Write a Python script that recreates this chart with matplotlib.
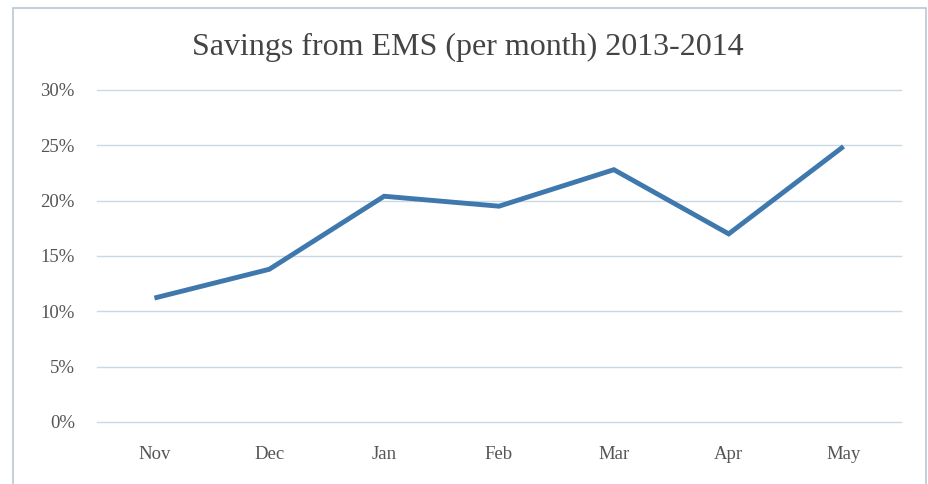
import matplotlib
matplotlib.use("Agg")
import matplotlib.pyplot as plt
from matplotlib.patches import Rectangle
from matplotlib.ticker import FuncFormatter

months = ["Nov", "Dec", "Jan", "Feb", "Mar", "Apr", "May"]
savings = [11.2, 13.8, 20.4, 19.5, 22.8, 17.0, 24.9]
yticks = [0, 5, 10, 15, 20, 25, 30]

plt.rcParams['font.family'] = ['Liberation Serif', 'DejaVu Serif']

fig = plt.figure(figsize=(9.29, 4.84), dpi=100)
fig.patch.set_facecolor('white')
ax = fig.add_axes([97/929, 1-422/484, (901-97)/929, (422-90)/484])

x = list(range(len(months)))
ax.plot(x, savings, color='#3f78ad', linewidth=3.5, solid_joinstyle='miter', solid_capstyle='butt')

ax.set_xlim(-0.5, len(months)-0.5)
ax.set_ylim(0, 30)
ax.set_yticks(yticks)
ax.yaxis.set_major_formatter(FuncFormatter(lambda v, p: f"{int(v)}%"))
ax.set_xticks(x)
ax.set_xticklabels(months)
ax.grid(axis='y', color='#c9d9e6', linewidth=1.0)
for gl in ax.get_ygridlines():
    gl.set_clip_on(False)
ax.set_axisbelow(True)
for s in ax.spines.values():
    s.set_visible(False)
ax.tick_params(axis='both', length=0, labelsize=13.5, colors='#555555')
ax.tick_params(axis='x', pad=17)
ax.tick_params(axis='y', pad=16)

fig.text(468/929, 1-47/484, "Savings from EMS (per month) 2013-2014",
         ha='center', va='center', fontsize=23, color='#444444')

fig.patches.append(Rectangle((13/929, -0.05), (926-13)/929, 1.05-8/484,
                             transform=fig.transFigure, fill=False,
                             edgecolor='#b9c8d4', linewidth=1.2))

fig.savefig("out.png", dpi=100)
